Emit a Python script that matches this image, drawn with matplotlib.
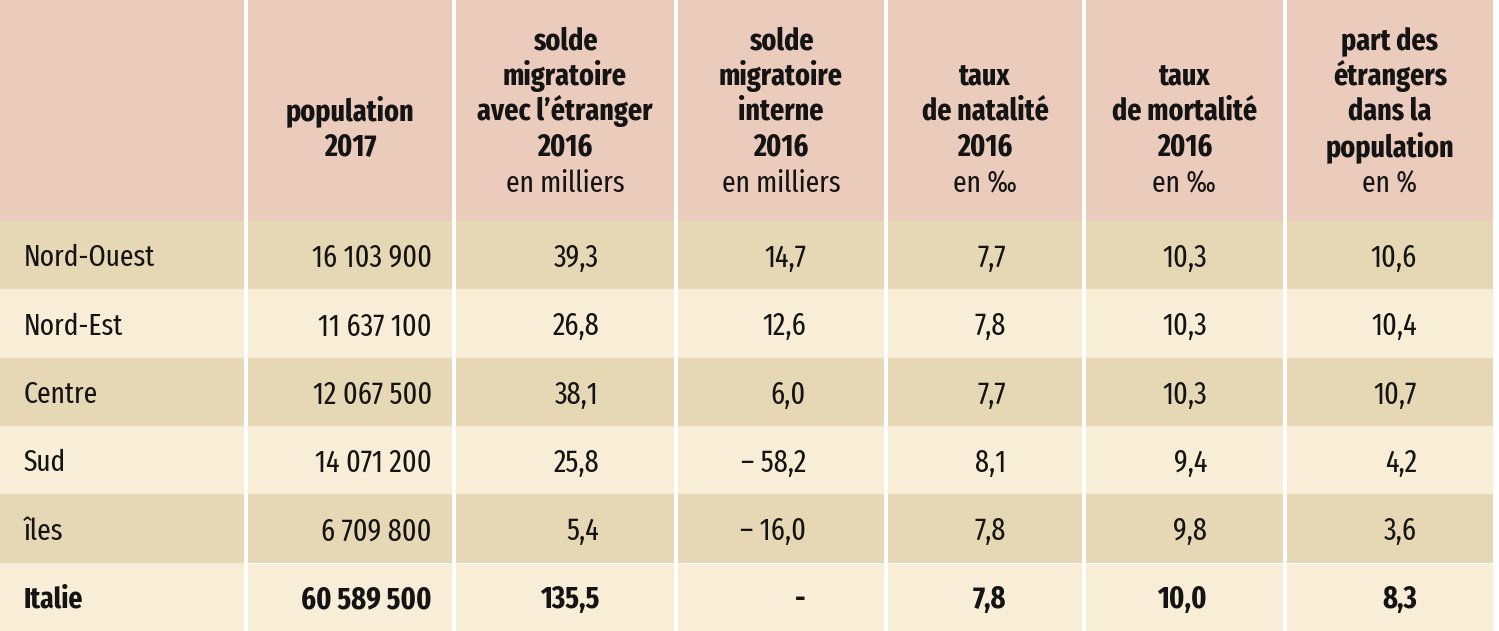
import matplotlib

matplotlib.use("Agg")

import matplotlib.pyplot as plt
from matplotlib.patches import Rectangle

plt.rcParams["font.family"] = ["Fira Sans Extra Condensed", "DejaVu Sans"]

# --- table content ---------------------------------------------------------
header_bold = [
    [],
    ["population", "2017"],
    ["solde", "migratoire", "avec l’étranger", "2016"],
    ["solde", "migratoire", "interne", "2016"],
    ["taux", "de natalité", "2016"],
    ["taux", "de mortalité", "2016"],
    ["part des", "étrangers", "dans la", "population"],
]
header_unit = ["", "", "en milliers", "en milliers", "en ‰", "en ‰", "en %"]

regions = ["Nord-Ouest", "Nord-Est", "Centre", "Sud", "îles", "Italie"]
population = ["16 103 900", "11 637 100", "12 067 500", "14 071 200", "6 709 800", "60 589 500"]
migr_foreign = ["39,3", "26,8", "38,1", "25,8", "5,4", "135,5"]
migr_internal = ["14,7", "12,6", "6,0", "– 58,2", "– 16,0", "-"]
birth_rate = ["7,7", "7,8", "7,7", "8,1", "7,8", "7,8"]
death_rate = ["10,3", "10,3", "10,3", "9,4", "9,8", "10,0"]
foreign_share = ["10,6", "10,4", "10,7", "4,2", "3,6", "8,3"]

columns = [regions, population, migr_foreign, migr_internal,
           birth_rate, death_rate, foreign_share]

# --- layout (pixel coordinates) --------------------------------------------
W, H = 1499, 631
col_edges = [0, 246, 454, 676, 886, 1084, 1285, 1495]
gap = 4
header_h = 221
row_h = (H - header_h) / len(regions)
num_right = [None, 432, 599, 806, 1006, 1207, 1417]
line_y = [41, 76, 111, 147]
unit_y = 184

c_head = "#ebcbbb"
c_dark = "#e6d8b5"
c_light = "#f8eed7"
c_text = "#141414"

fig = plt.figure(figsize=(W / 100, H / 100), dpi=100)
ax = fig.add_axes([0, 0, 1, 1])
ax.set_xlim(0, W)
ax.set_ylim(H, 0)
ax.axis("off")
fig.patch.set_facecolor("white")

n_cols = len(columns)
for c in range(n_cols):
    x0 = col_edges[c] + (gap / 2 if c > 0 else 0)
    x1 = col_edges[c + 1] - gap / 2
    ax.add_patch(Rectangle((x0, 0), x1 - x0, header_h, color=c_head, lw=0))
    # header text, bottom-aligned on fixed line slots
    lines = header_bold[c]
    xc = (x0 + x1) / 2
    for i, txt in enumerate(lines):
        y = line_y[len(line_y) - len(lines) + i]
        ax.text(xc, y, txt, ha="center", va="center", fontsize=22,
                fontweight="bold", color=c_text)
    if header_unit[c]:
        ax.text(xc, unit_y, header_unit[c], ha="center", va="center",
                fontsize=21.5, color=c_text)

    for r, val in enumerate(columns[c]):
        y0 = header_h + r * row_h
        face = c_dark if r % 2 == 0 else c_light
        top = y0 + (1 if (r == len(regions) - 1 and c > 0) else 0)
        ax.add_patch(Rectangle((x0, top), x1 - x0, y0 + row_h - top,
                               color=face, lw=0))
        bold = r == len(regions) - 1
        yc = y0 + row_h / 2 + 3
        if c == 0:
            ax.text(24, yc, val, ha="left", va="center", fontsize=21.5,
                    fontweight="bold" if bold else "normal", color=c_text)
        else:
            ax.text(num_right[c], yc, val, ha="right", va="center",
                    fontsize=22, fontweight="bold" if bold else "normal",
                    color=c_text)

fig.savefig("out.png", dpi=100, facecolor="white")
